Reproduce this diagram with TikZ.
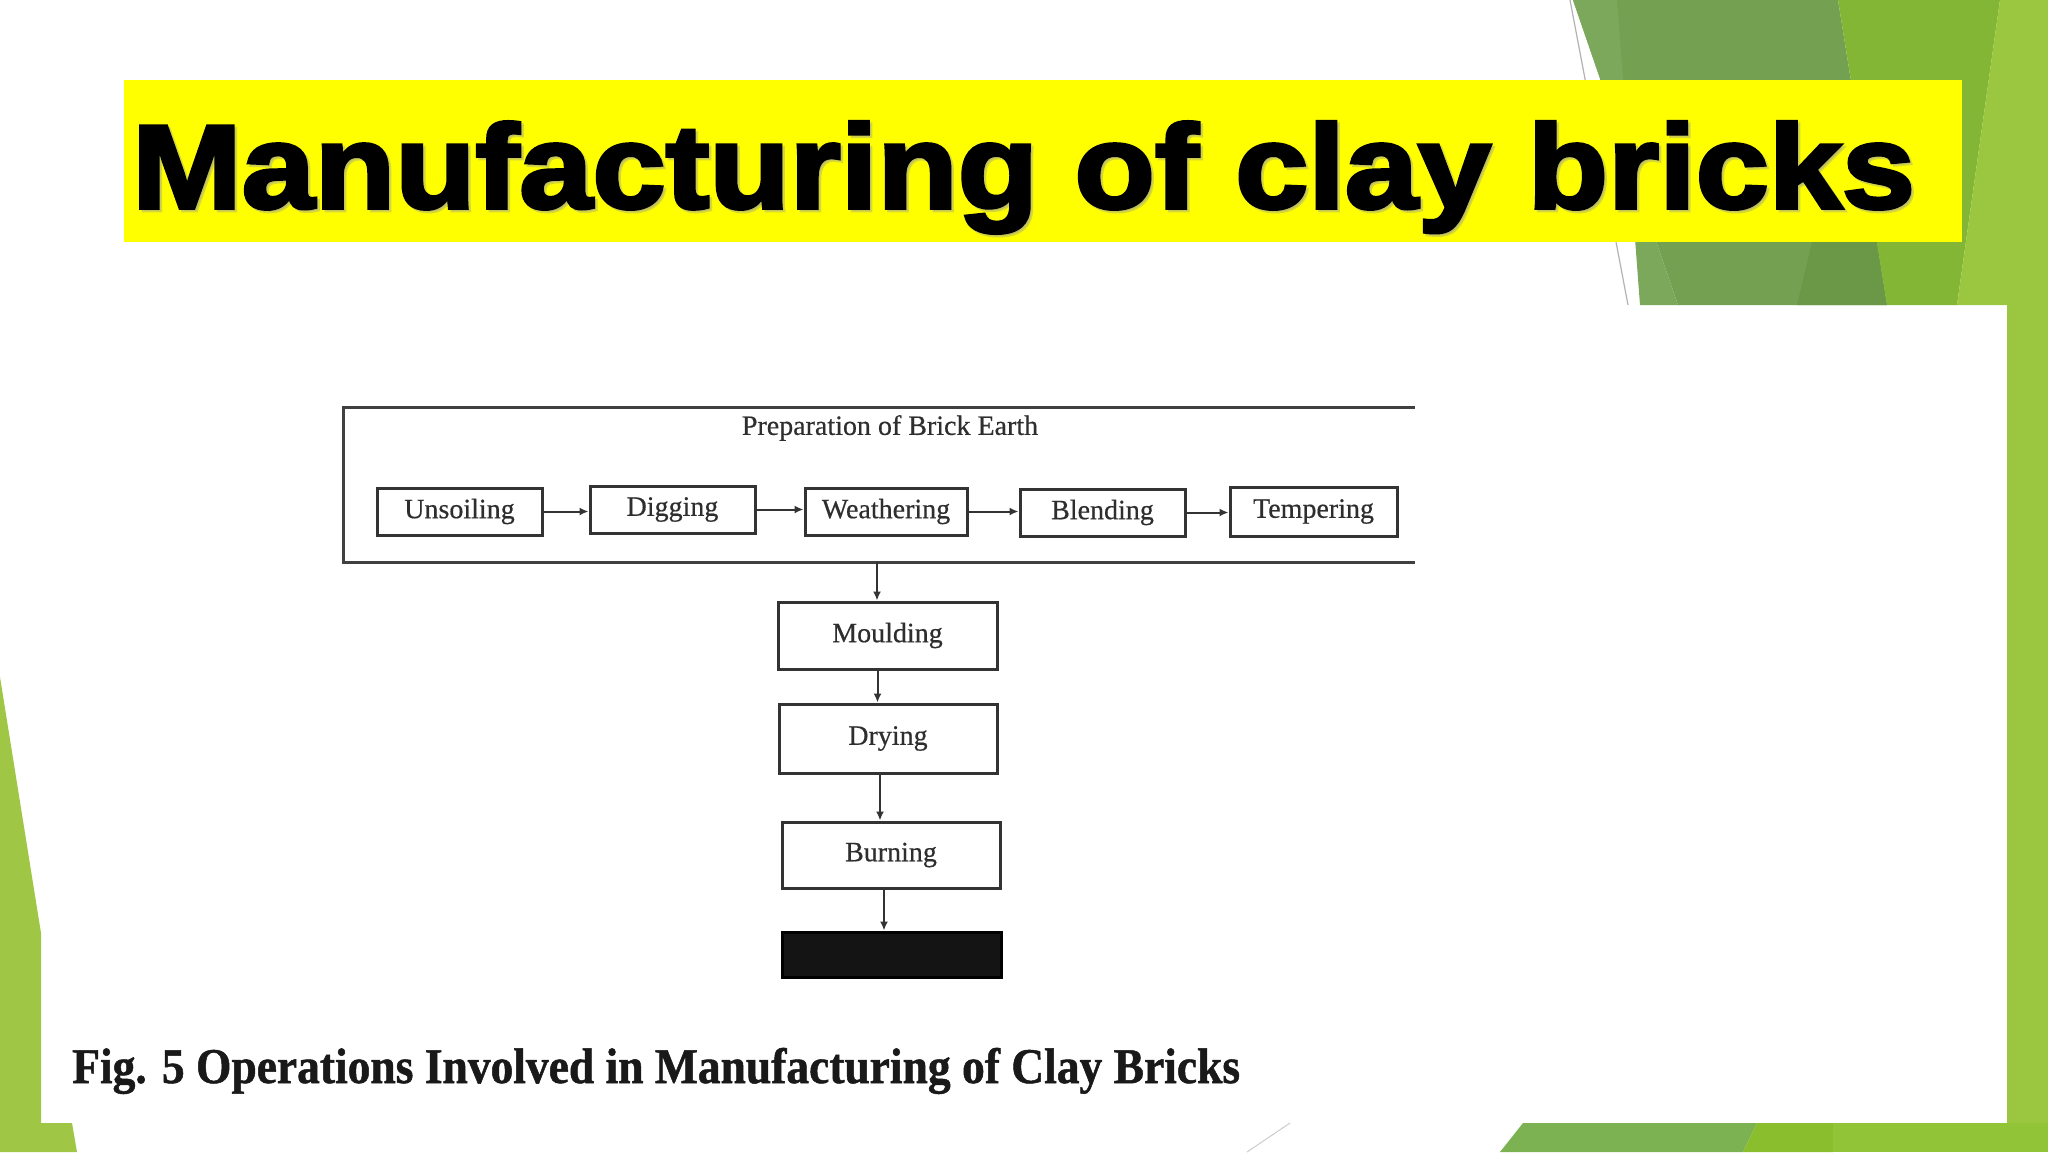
\documentclass[tikz,border=0pt]{standalone}
\usepackage{fontspec}
\usetikzlibrary{arrows.meta}
\font\titlefnt="Liberation Sans Bold:embolden=3;extend=1.105" at 119pt
\font\capfnt="Liberation Serif Bold:embolden=1;extend=0.91" at 50pt
\font\diagfnt="Liberation Serif:embolden=0.5" at 28pt
\definecolor{gDark}{RGB}{116,160,82}
\definecolor{gDarkL}{RGB}{124,168,92}
\definecolor{gDarker}{RGB}{106,152,70}
\definecolor{gMid}{RGB}{132,182,54}
\definecolor{gLight}{RGB}{154,198,64}
\definecolor{gB1}{RGB}{124,178,82}
\definecolor{gB2}{RGB}{138,190,44}
\definecolor{gB3}{RGB}{146,196,56}
\definecolor{gLeft}{RGB}{160,198,70}
\definecolor{banner}{RGB}{255,255,0}
\begin{document}
\begin{tikzpicture}[x=1pt,y=-1pt,
  box/.style={rectangle, draw=black!80, line width=3pt, inner sep=0pt, font=\diagfnt, text=black!82},
  conn/.style={draw=black!80, line width=2pt, -{Latex[length=9pt,width=8pt]}},
  frame/.style={draw=black!75, line width=3pt},
  titletext/.style={anchor=base west, inner sep=0pt, font=\titlefnt}
]
\useasboundingbox (0,0) rectangle (2048,1152);
\fill[white] (0,0) rectangle (2048,1152);
% top-right green facets
\fill[gDark] (1573,0) -- (1838,0) -- (1887,305) -- (1678,305) -- cycle;
\fill[gDarkL] (1573,0) -- (1617,0) -- (1640,305) -- (1678,305) -- cycle;
\fill[gDarker] (1812,242) -- (1877,242) -- (1887,305) -- (1797,305) -- cycle;
\fill[gMid] (1838,0) -- (2000,0) -- (1957,305) -- (1887,305) -- cycle;
\fill[gLight] (2000,0) -- (2048,0) -- (2048,305) -- (1957,305) -- cycle;
\draw[gray!60, line width=1.2pt] (1570,0) -- (1628,305);
% right column
\fill[gLight] (2007,305) rectangle (2048,1152);
% bottom band
\fill[gB1] (1523,1123) -- (1757,1123) -- (1743,1152) -- (1500,1152) -- cycle;
\fill[gB2] (1757,1123) -- (1833,1123) -- (1833,1152) -- (1743,1152) -- cycle;
\fill[gB3] (1833,1123) -- (2048,1123) -- (2048,1152) -- (1833,1152) -- cycle;
% left facet
\fill[gLeft] (0,677) -- (41,933) -- (41,1123) -- (72,1123) -- (77,1152) -- (0,1152) -- cycle;
\draw[gray!40, line width=1pt] (1247,1152) -- (1290,1123);
% title banner
\fill[banner] (124,80) rectangle (1962,242);
\node[titletext, text=black!40, opacity=0.4] (titleshadow) at (134.5,210.5) {Manufacturing of clay bricks};
\node[titletext, text=black] (title) at (132,208) {Manufacturing of clay bricks};
% frame
\coordinate (ftr) at (1415,407);
\coordinate (ftl) at (343,407);
\coordinate (fbl) at (343,562);
\coordinate (fbr) at (1415,562);
\coordinate (fbot) at (877,562);
\draw[frame] (ftr) -- (ftl) -- (fbl) -- (fbr);
\node[font=\diagfnt, text=black!82, inner sep=0pt] (prep) at (890,428) {Preparation of Brick Earth};
% row boxes
\node[box, minimum width=165pt, minimum height=47pt] (uns) at (459.5,511.5) {Unsoiling};
\node[box, minimum width=165pt, minimum height=47pt] (dig) at (672.5,509.5) {Digging};
\node[box, minimum width=162pt, minimum height=47pt] (wea) at (886,511.5) {Weathering};
\node[box, minimum width=165pt, minimum height=47pt] (ble) at (1102.5,512.5) {Blending};
\node[box, minimum width=167pt, minimum height=49pt] (tem) at (1313.5,511.5) {Tempering};
% column boxes
\node[box, minimum width=219pt, minimum height=67pt] (mou) at (887.5,635.5) {Moulding};
\node[box, minimum width=218pt, minimum height=69pt] (dry) at (888,738.5) {Drying};
\node[box, minimum width=218pt, minimum height=66pt] (bur) at (891,855) {Burning};
\node[box, fill=black!92, draw=black, minimum width=219pt, minimum height=45pt] (blk) at (891.5,954.5) {};
% connectors
\draw[conn] (uns.east) -- (uns.east -| dig.west);
\draw[conn] (dig.east) -- (dig.east -| wea.west);
\draw[conn] (wea.east) -- (wea.east -| ble.west);
\draw[conn] (ble.east) -- (ble.east -| tem.west);
\draw[conn] (fbot) -- (fbot |- mou.north);
\draw[conn] ([xshift=-10pt]mou.south) -- ([xshift=-10pt]mou.south |- dry.north);
\draw[conn] ([xshift=-8pt]dry.south) -- ([xshift=-8pt]dry.south |- bur.north);
\draw[conn] ([xshift=-7pt]bur.south) -- ([xshift=-7pt]bur.south |- blk.north);
% caption
\node[anchor=base west, inner sep=0pt, font=\capfnt, text=black!90] (cap) at (72,1083) {Fig. 5 Operations Involved in Manufacturing of Clay Bricks};
\end{tikzpicture}
\end{document}
